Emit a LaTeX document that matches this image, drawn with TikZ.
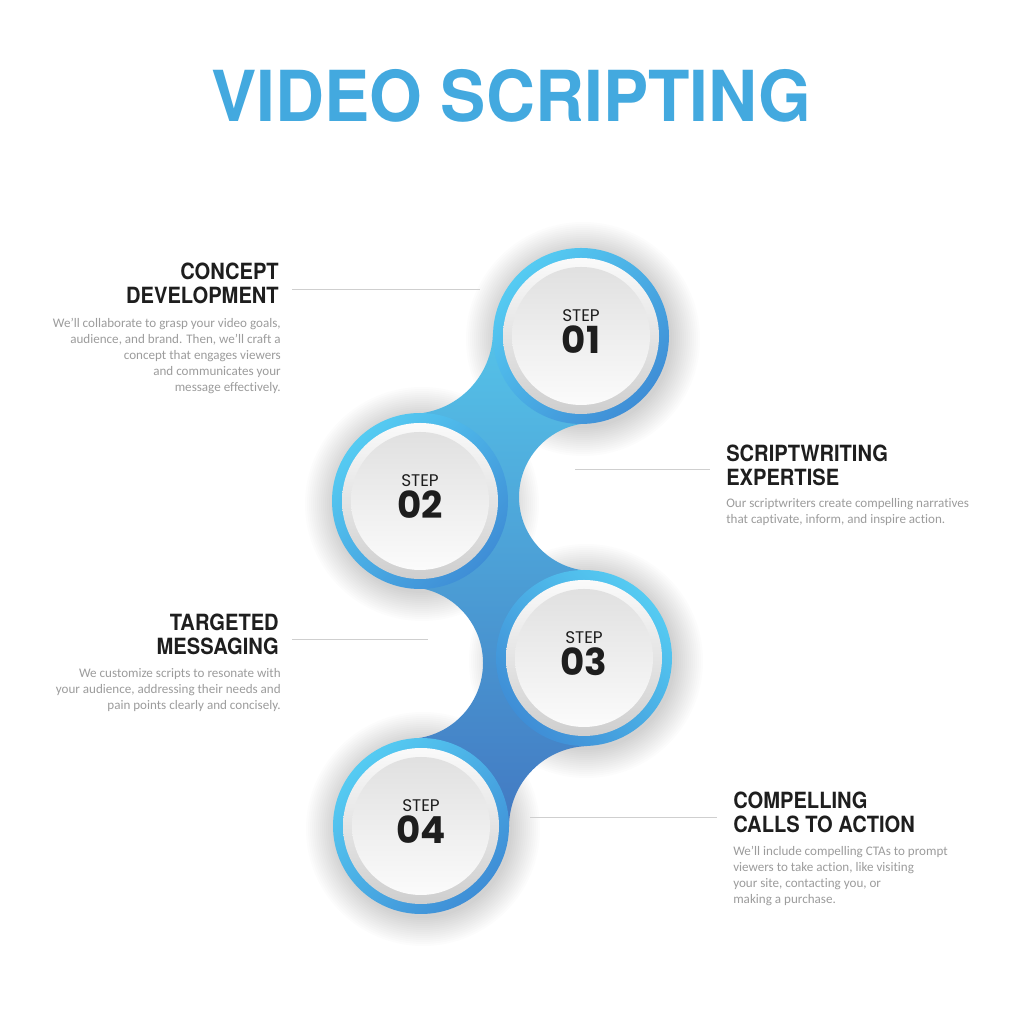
\documentclass[tikz,border=0pt]{standalone}
\usepackage{fontspec}
\usetikzlibrary{calc}
\setmainfont{Carlito}[Ligatures={TeX,NoCommon}]
\newfontfamily\headfont[FakeStretch=0.9]{TeX Gyre Heros}
\newfontfamily\titlefont[FakeStretch=0.965]{TeX Gyre Heros}
\newfontfamily\stepfont{Poppins}

\definecolor{titleblue}{HTML}{43A9DF}
\definecolor{ringcyan}{HTML}{55CBF2}
\definecolor{ringblue}{HTML}{3F8ED6}
\definecolor{blobtop}{HTML}{55C2E8}
\definecolor{blobbot}{HTML}{4279C2}
\definecolor{headgray}{HTML}{1E1E1E}
\definecolor{bodygray}{HTML}{9C9C9C}
\definecolor{rulegray}{HTML}{CFCFCF}

\begin{document}
\begin{tikzpicture}[x=0.25mm, y=0.25mm,
    heading/.style={font=\headfont\bfseries\fontsize{15.9}{17}\selectfont, text=headgray, inner sep=0},
    body/.style={font=\fontsize{9.3}{11.4}\selectfont, text=bodygray, inner sep=0},
    rule/.style={draw=rulegray, line width=0.5pt},
    steptxt/.style={font=\stepfont\fontsize{12}{13}\selectfont, text=headgray, anchor=base, inner sep=0},
    stepnum/.style={font=\stepfont\bfseries\fontsize{26.5}{28}\selectfont, text=headgray, anchor=base, inner sep=0},
    ring/.style={top color=ringcyan, bottom color=ringblue, shading angle=#1},
    bevel/.style={top color=white!96!gray, bottom color=gray!38},
    face/.style={top color=gray!24, bottom color=gray!3}]

    \useasboundingbox (0,0) rectangle (1024,1024);
    \fill[white] (0,0) rectangle (1024,1024);

    % Title
    \node[font=\titlefont\bfseries\fontsize{50}{56}\selectfont, text=titleblue, anchor=base] (title) at (511,902) {VIDEO SCRIPTING};

    % Circle centres and bites
    \coordinate (s1) at (581,688);
    \coordinate (s2) at (420,523);
    \coordinate (s3) at (584,366);
    \coordinate (s4) at (421,198);
    \coordinate (bc) at (410,693);
    \coordinate (ba) at (593,527);
    \coordinate (bb) at (407,361);
    \coordinate (bd) at (590,197);

    % Soft shadows
    \foreach \s in {s1,s2,s3,s4}
      \foreach \r in {89,91,...,117}
        \fill[black, opacity=0.011] ($(\s)+(2,-3)$) circle (\r);

    % Blue band
    \begin{scope}[even odd rule]
      \clip (0,0) rectangle (1024,1024)
        (bc) circle (83) (ba) circle (74) (bb) circle (76) (bd) circle (81);
      \shade[top color=blobtop, bottom color=blobbot]
        ($(s1)!22mm!(bc)$) -- ($(s2)!22mm!(bc)$) -- ($(s2)!22mm!(bb)$) -- ($(s4)!22mm!(bb)$)
        -- ($(s4)!22mm!(bd)$) -- ($(s3)!22mm!(bd)$) -- ($(s3)!22mm!(ba)$) -- ($(s1)!22mm!(ba)$) -- cycle;
    \end{scope}

    % Step circles
    \foreach \s/\a in {s1/45, s2/45, s3/-45, s4/45} {
      \shade[ring=\a] (\s) circle (88);
      \shade[bevel] (\s) circle (78);
      \shade[face] (\s) circle (69);
    }
    \node[steptxt] (t1) at ($(s1)+(0,14)$) {STEP};
    \node[stepnum] (n1) at ($(s1)+(0,-18)$) {01};
    \node[steptxt] (t2) at ($(s2)+(0,14)$) {STEP};
    \node[stepnum] (n2) at ($(s2)+(0,-18)$) {02};
    \node[steptxt] (t3) at ($(s3)+(0,14)$) {STEP};
    \node[stepnum] (n3) at ($(s3)+(0,-18)$) {03};
    \node[steptxt] (t4) at ($(s4)+(0,14)$) {STEP};
    \node[stepnum] (n4) at ($(s4)+(0,-18)$) {04};

    % Step 1
    \node[heading, align=right, anchor=north east] (h1) at (279,761) {CONCEPT\\DEVELOPMENT};
    \node[body, align=right, anchor=north east] (b1) at (281,706) {We'll collaborate to grasp your video goals,\\audience, and brand. Then, we'll craft a\\concept that engages viewers\\and communicates your\\message effectively.};
    \coordinate (r1a) at (292,735);
    \coordinate (r1b) at (480,735);
    \draw[rule] (r1a) -- (r1b);

    % Step 2
    \node[heading, align=left, anchor=north west] (h2) at (726,579) {SCRIPTWRITING\\EXPERTISE};
    \node[body, align=left, anchor=north west] (b2) at (726,526) {Our scriptwriters create compelling narratives\\that captivate, inform, and inspire action.};
    \coordinate (r2a) at (575,555);
    \coordinate (r2b) at (710,555);
    \draw[rule] (r2a) -- (r2b);

    % Step 3
    \node[heading, align=right, anchor=north east] (h3) at (279,410) {TARGETED\\MESSAGING};
    \node[body, align=right, anchor=north east] (b3) at (281,356) {We customize scripts to resonate with\\your audience, addressing their needs and\\pain points clearly and concisely.};
    \coordinate (r3a) at (292,385);
    \coordinate (r3b) at (428,385);
    \draw[rule] (r3a) -- (r3b);

    % Step 4
    \node[heading, align=left, anchor=north west] (h4) at (733,232) {COMPELLING\\CALLS TO ACTION};
    \node[body, align=left, anchor=north west] (b4) at (733,178) {We'll include compelling CTAs to prompt\\viewers to take action, like visiting\\your site, contacting you, or\\making a purchase.};
    \coordinate (r4a) at (530,207);
    \coordinate (r4b) at (717,207);
    \draw[rule] (r4a) -- (r4b);
\end{tikzpicture}
\end{document}
